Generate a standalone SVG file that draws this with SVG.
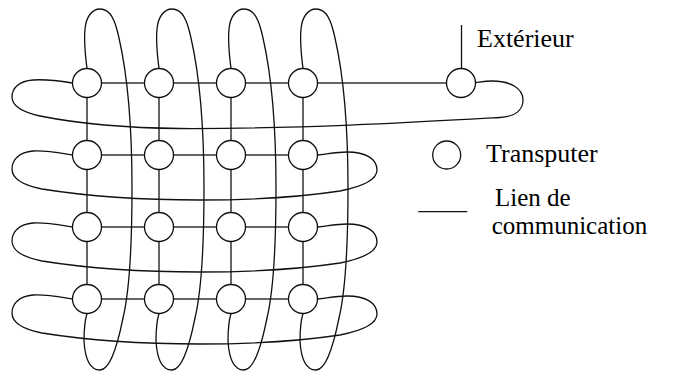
<svg xmlns="http://www.w3.org/2000/svg" width="686" height="373" viewBox="0 0 686 373">
<defs>
<path id="col" d="M 0,-14.5 C -2,-30 -3,-44 -2,-54 C -1,-66 5,-74 13,-74 C 23,-74 28,-64 32,-45 C 40,-10 45,40 45,105 C 45,165 42,210 36,235 C 32,255 24,287 13,287 C 3,287 -2,275 -3,258 C -3,245 -2,237 0,230.5"/>
<path id="row" d="M -14.5,0 C -27,-2 -42,-5 -54,-4 C -68,-3 -75,5 -75,14 C -75,23 -65,30 -45,34 C 5,42 60,45 113,45 C 170,45 220,41 253,36 C 278,31 290,24 290,15 C 290,4 279,-3 260,-3 C 250,-3 240,-1 230.5,0"/>
</defs>
<g id="connectors">
<g fill="none" stroke="#333" stroke-width="1.5">
<line x1="87" y1="83" x2="461" y2="83"/>
<line x1="87" y1="155" x2="303" y2="155"/>
<line x1="87" y1="227" x2="303" y2="227"/>
<line x1="87" y1="299" x2="303" y2="299"/>
<line x1="87" y1="83" x2="87" y2="299"/>
<line x1="159" y1="83" x2="159" y2="299"/>
<line x1="231" y1="83" x2="231" y2="299"/>
<line x1="303" y1="83" x2="303" y2="299"/>
</g>
<g fill="none" stroke="#111" stroke-width="1.3">
<use href="#col" x="87" y="83"/>
<use href="#col" x="159" y="83"/>
<use href="#col" x="231" y="83"/>
<use href="#col" x="303" y="83"/>
<path d="M 72.5,83 C 60,81 45,79 33,80 C 19,81 12,88 12,97 C 12,106 22,112 40,116 C 80,124 130,128 180,128.5 C 300,129 420,122 500,117.5 C 515,116.5 523,110 523,100 C 523,88 510,81 492,81 C 485,81 480,82 475.5,82.5"/>
<use href="#row" x="87" y="155"/>
<use href="#row" x="87" y="227"/>
<use href="#row" x="87" y="299"/>
<line x1="461.5" y1="25" x2="461.5" y2="68.5"/>
</g>
</g>
<g fill="#fff" stroke="#111" stroke-width="1.3">
<g id="n11"><circle cx="87" cy="83" r="14.5"/></g>
<g id="n12"><circle cx="159" cy="83" r="14.5"/></g>
<g id="n13"><circle cx="231" cy="83" r="14.5"/></g>
<g id="n14"><circle cx="303" cy="83" r="14.5"/></g>
<g id="n21"><circle cx="87" cy="155" r="14.5"/></g>
<g id="n22"><circle cx="159" cy="155" r="14.5"/></g>
<g id="n23"><circle cx="231" cy="155" r="14.5"/></g>
<g id="n24"><circle cx="303" cy="155" r="14.5"/></g>
<g id="n31"><circle cx="87" cy="227" r="14.5"/></g>
<g id="n32"><circle cx="159" cy="227" r="14.5"/></g>
<g id="n33"><circle cx="231" cy="227" r="14.5"/></g>
<g id="n34"><circle cx="303" cy="227" r="14.5"/></g>
<g id="n41"><circle cx="87" cy="299" r="14.5"/></g>
<g id="n42"><circle cx="159" cy="299" r="14.5"/></g>
<g id="n43"><circle cx="231" cy="299" r="14.5"/></g>
<g id="n44"><circle cx="303" cy="299" r="14.5"/></g>
<g id="exterieur"><circle cx="461" cy="83" r="14.5"/></g>
<g id="legend-node"><circle cx="446.7" cy="155" r="14"/></g>
</g>
<g id="legend-link"><line x1="418.3" y1="211.7" x2="467.3" y2="211.7" stroke="#111" stroke-width="1.3"/></g>
<text x="477" y="47" font-family="Liberation Serif" font-size="26">Extérieur</text>
<text x="486" y="162.3" font-family="Liberation Serif" font-size="26">Transputer</text>
<text x="495" y="205.5" font-family="Liberation Serif" font-size="25">Lien de</text>
<text x="491.7" y="233.5" font-family="Liberation Serif" font-size="25">communication</text>
</svg>
